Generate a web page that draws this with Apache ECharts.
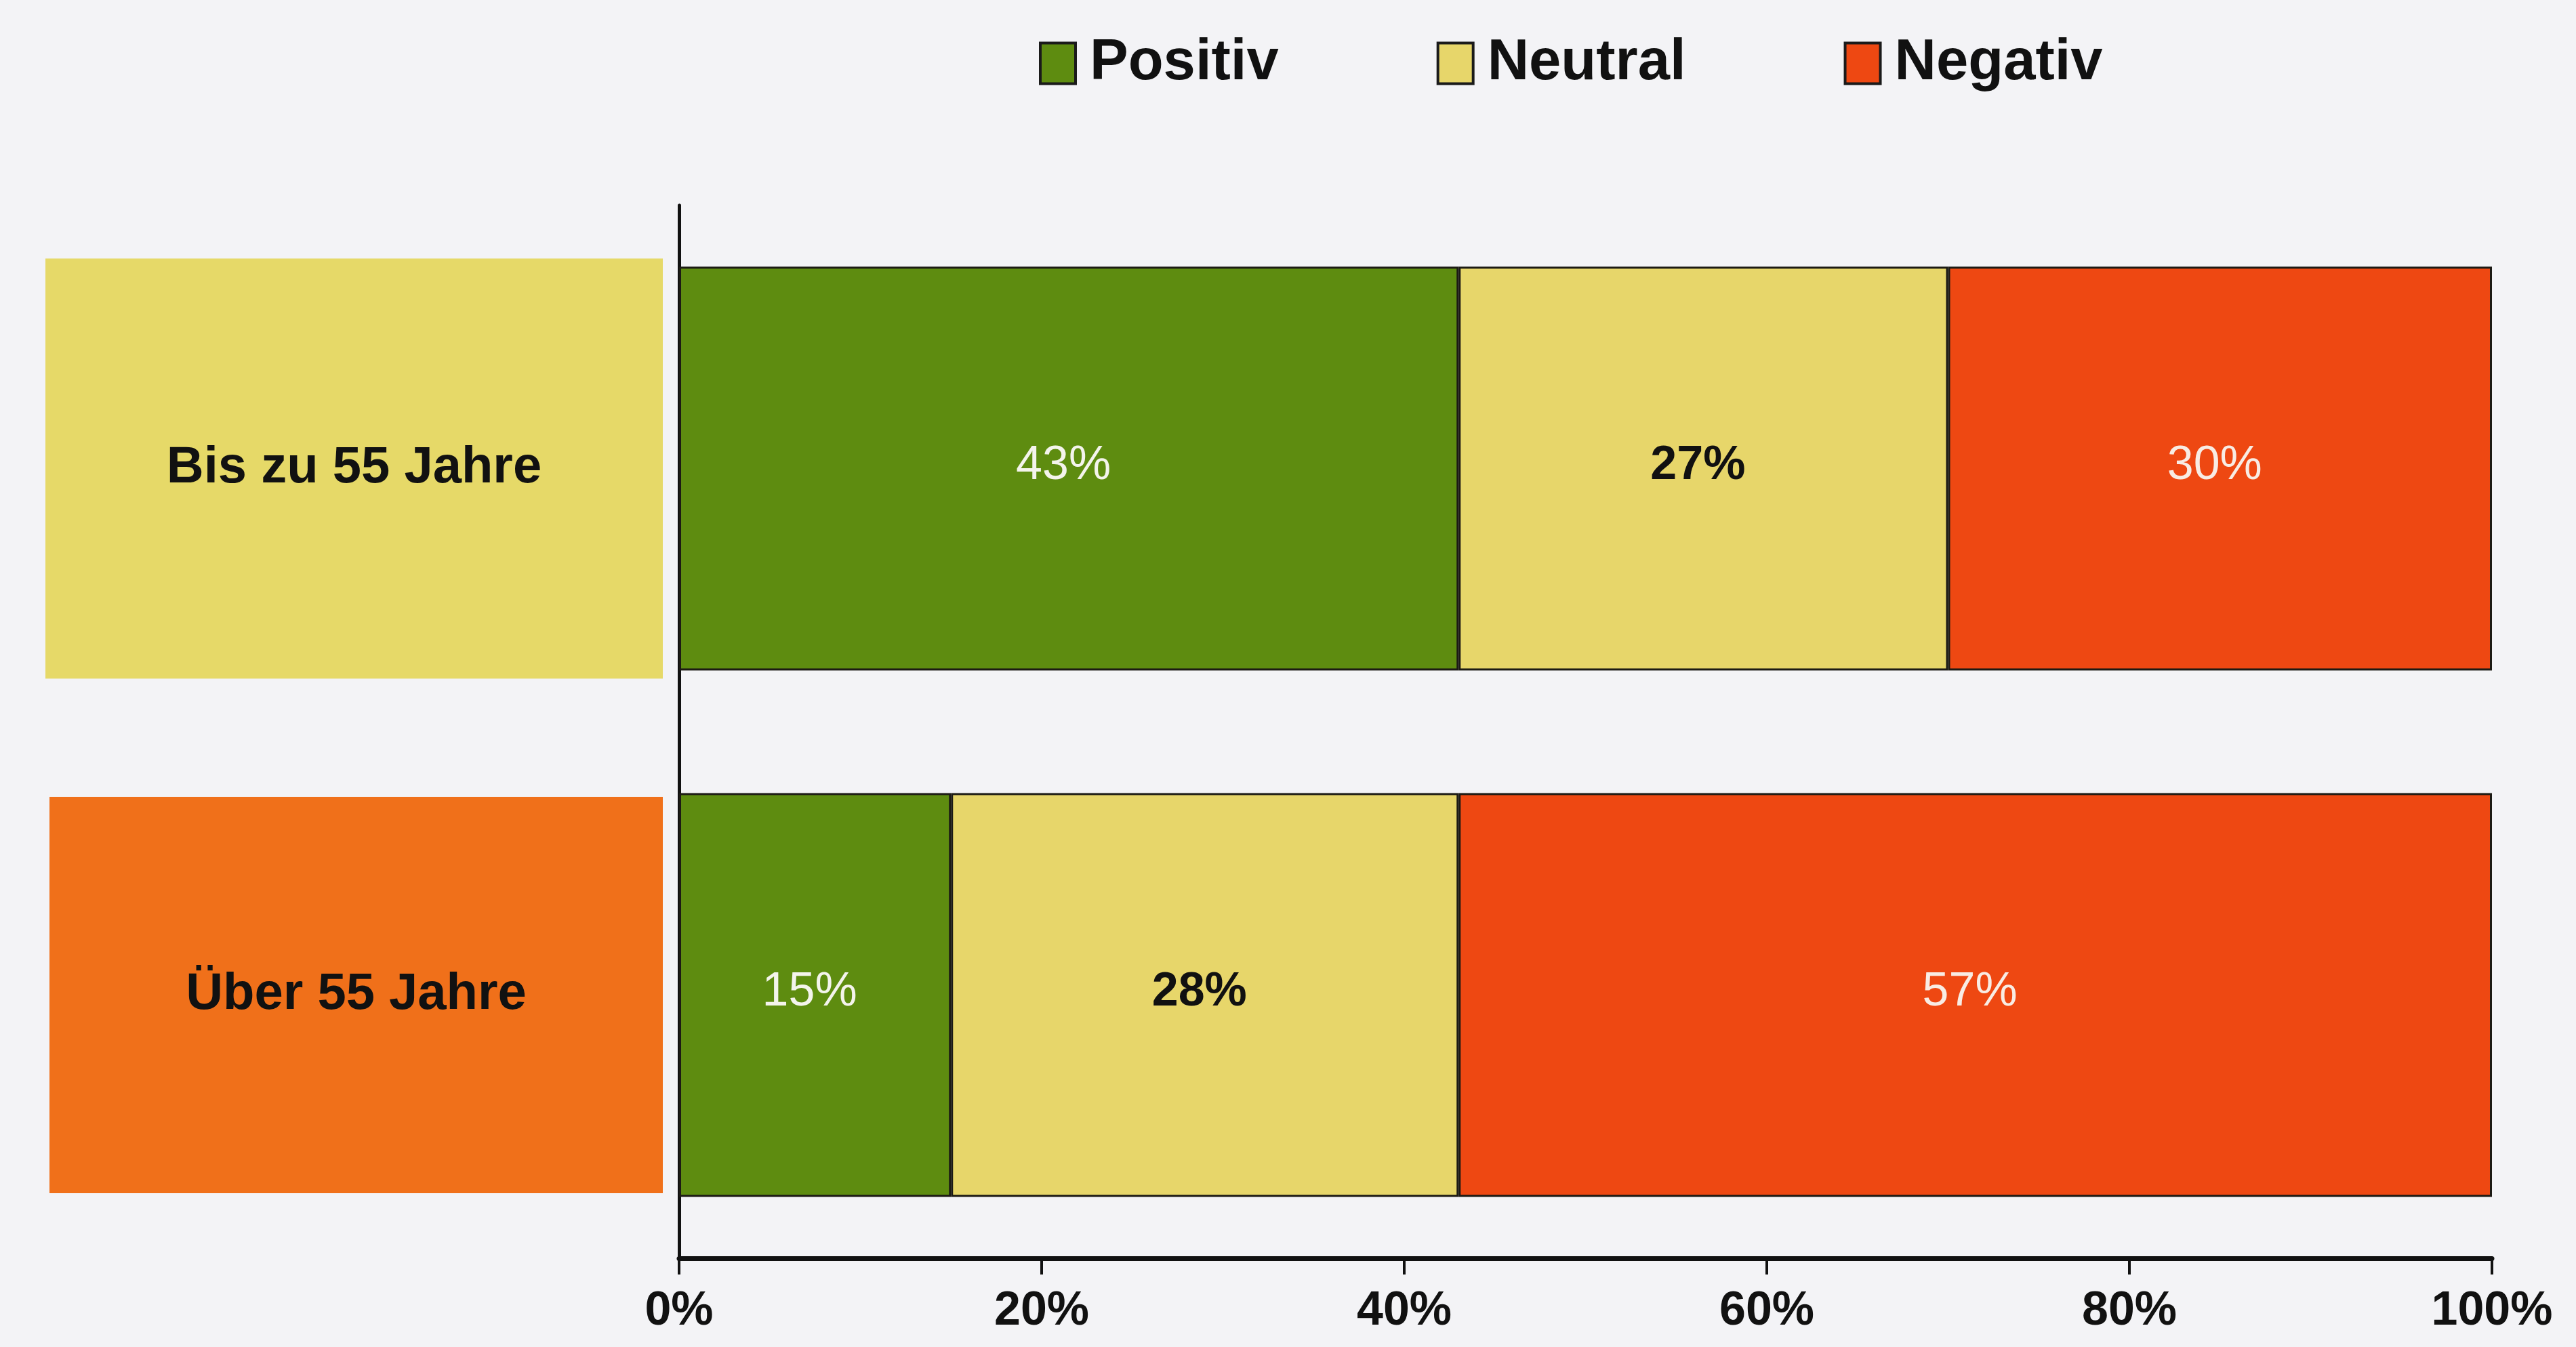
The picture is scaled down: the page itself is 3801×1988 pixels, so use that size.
<!DOCTYPE html>
<html>
<head>
<meta charset="utf-8">
<style>
  html, body { margin: 0; padding: 0; background: #f3f3f6; }
  #chart { width: 3801px; height: 1988px; }
</style>
<script src="https://cdn.jsdelivr.net/npm/echarts@6/dist/echarts.min.js"></script>
</head>
<body>
<div id="chart"></div>
<script>
// Daten
var categories = ['Bis zu 55 Jahre', 'Über 55 Jahre'];
var seriesNames = ['Positiv', 'Neutral', 'Negativ'];
var positiv = [43, 15];
var neutral = [27, 28];
var negativ = [30, 57];
var xTicks = [0, 20, 40, 60, 80, 100];

var colors = ['#5e8c10', '#e7d66a', '#ee4812'];
var labelBoxColors = ['#e6d968', '#f0701a'];
var fontArial = 'Arial, "Liberation Sans", sans-serif';

var myChart = echarts.init(document.getElementById('chart'));

function makeSeries(name, data, color, labelColor, labelWeight) {
    return {
        name: name,
        type: 'bar',
        stack: 'total',
        data: data,
        barWidth: 596,
        itemStyle: {
            color: color,
            borderColor: '#1c1a14',
            borderWidth: 3
        },
        label: {
            show: true,
            position: 'inside',
            formatter: '{c}%',
            color: labelColor,
            fontSize: 70,
            fontWeight: labelWeight,
            fontFamily: fontArial,
            offset: [-8, -4]
        }
    };
}

var option = {
    backgroundColor: '#f3f3f6',
    animation: false,
    legend: {
        data: seriesNames,
        left: 1528,
        top: 46,
        icon: 'rect',
        itemWidth: 52,
        itemHeight: 60,
        itemGap: 233,
        itemStyle: { borderColor: '#1a1a1a', borderWidth: 4 },
        textStyle: {
            fontSize: 85,
            fontWeight: 'bold',
            fontFamily: fontArial,
            color: '#111',
            padding: [0, 0, 0, 16]
        }
    },
    grid: {
        left: 1002,
        right: 124,
        top: 303,
        bottom: 131,
        containLabel: false
    },
    xAxis: {
        type: 'value',
        min: xTicks[0],
        max: xTicks[xTicks.length - 1],
        interval: xTicks[1] - xTicks[0],
        axisLine: { show: true, lineStyle: { color: '#111', width: 7 } },
        axisTick: { show: true, length: 24, lineStyle: { color: '#111', width: 4 } },
        splitLine: { show: false },
        axisLabel: {
            formatter: '{value}%',
            margin: 44,
            fontSize: 70,
            fontWeight: 'bold',
            fontFamily: fontArial,
            color: '#111'
        }
    },
    yAxis: {
        type: 'category',
        data: categories,
        inverse: true,
        axisLine: { show: true, lineStyle: { color: '#111', width: 5 } },
        axisTick: { show: false },
        axisLabel: {
            margin: 24,
            formatter: function (value, idx) {
                return '{b' + idx + '|' + value + '}';
            },
            rich: {
                b0: {
                    backgroundColor: labelBoxColors[0],
                    width: 911,
                    height: 620,
                    lineHeight: 620,
                    align: 'center',
                    fontSize: 76,
                    fontWeight: 'bold',
                    fontFamily: fontArial,
                    color: '#111'
                },
                b1: {
                    backgroundColor: labelBoxColors[1],
                    width: 905,
                    height: 585,
                    lineHeight: 585,
                    align: 'center',
                    fontSize: 76,
                    fontWeight: 'bold',
                    fontFamily: fontArial,
                    color: '#111'
                }
            }
        }
    },
    series: [
        makeSeries(seriesNames[0], positiv, colors[0], '#f4f4ec', 'normal'),
        makeSeries(seriesNames[1], neutral, colors[1], '#111', 'bold'),
        makeSeries(seriesNames[2], negativ, colors[2], '#f8ece4', 'normal')
    ]
};

myChart.setOption(option);
</script>
</body>
</html>
